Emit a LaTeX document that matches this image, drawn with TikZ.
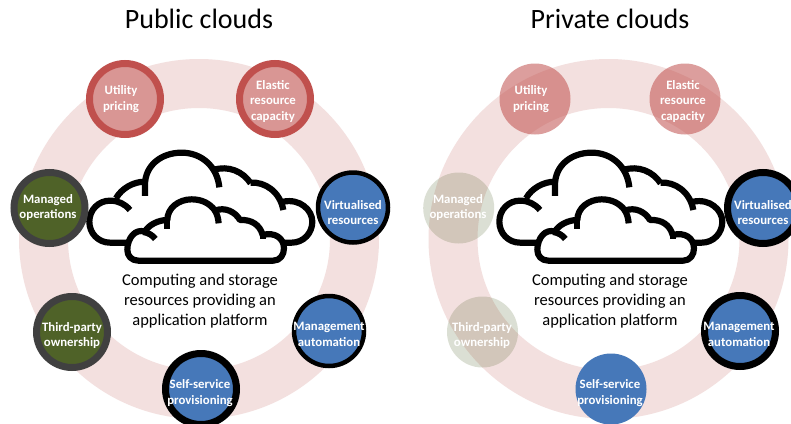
\documentclass[tikz,border=0pt]{standalone}
\usepackage{fontspec}
\setmainfont{Carlito}
\definecolor{ringc}{RGB}{243,224,223}
\definecolor{redfill}{RGB}{217,150,148}
\definecolor{redline}{RGB}{192,80,77}
\definecolor{greenfill}{RGB}{79,98,40}
\definecolor{greyline}{RGB}{64,64,64}
\definecolor{bluefill}{RGB}{70,120,185}
\tikzset{
  ring/.style={fill=ringc,even odd rule},
  disc/.style={circle,inner sep=0pt,outer sep=0pt,minimum size=#1},
  disc/.default=71pt,
  pubred/.style={disc=71pt,fill=redfill,draw=redline,line width=7pt},
  pubgreen/.style={disc=71pt,fill=greenfill,draw=greyline,line width=7pt},
  thinblue/.style={disc=70pt,fill=bluefill,draw=black,line width=4.5pt},
  thickblue/.style={disc=71pt,fill=bluefill,draw=black,line width=7pt},
  plainblue/.style={disc=71pt,fill=bluefill},
  palered/.style={disc=71pt,fill=redline,fill opacity=0.55},
  palegreen/.style={disc=71pt,fill=greenfill,fill opacity=0.2},
  lbl/.style={text=white,align=center,inner sep=0pt,font=\fontsize{12.8}{15.5}\selectfont\bfseries},
  title/.style={text=black,inner sep=0pt,font=\fontsize{28}{30}\selectfont},
  caption/.style={text=black,align=center,inner sep=0pt,font=\fontsize{16.5}{20}\selectfont},
  cloudline/.style={draw=black,line width=6.2pt,line join=round},
}
\newcommand{\cloudpair}[1]{%
\begin{scope}[shift={(#1,140)},x=0.3333pt,y=-0.3333pt]
  \draw[cloudline] (195,168) -- (195,135) .. controls (195,75) and (245,38) .. (305,38) .. controls (365,38) and (412,80) .. (418,142);
  \draw[cloudline] (195,125) .. controls (160,125) and (125,145) .. (108,175);
  \draw[cloudline] (400,90) .. controls (445,75) and (490,95) .. (512,130);
  \draw[cloudline] (512,128) .. controls (555,125) and (600,155) .. (610,210);
  \draw[cloudline] (610,185) .. controls (660,175) and (697,210) .. (697,245) .. controls (697,280) and (670,308) .. (635,308) -- (90,308) .. controls (55,308) and (28,280) .. (28,245) .. controls (28,210) and (55,182) .. (90,182) .. controls (115,182) and (135,192) .. (150,210);
  \draw[cloudline,fill=white] (175,362) -- (580,362) .. controls (600,362) and (612,345) .. (612,325) .. controls (612,295) and (585,275) .. (548,285) .. controls (540,255) and (515,238) .. (480,240) .. controls (465,215) and (435,200) .. (405,212) .. controls (390,190) and (365,178) .. (335,178) .. controls (295,178) and (262,205) .. (262,240) .. controls (235,240) and (205,255) .. (195,275) .. controls (165,265) and (142,295) .. (142,330) .. controls (142,348) and (155,362) .. (175,362) -- cycle;
  \draw[cloudline] (262,240) -- (262,268);
  \draw[cloudline] (405,212) .. controls (411,222) and (415,235) .. (416,250);
  \draw[cloudline] (548,285) -- (548,298);
  \draw[cloudline] (190,276) .. controls (205,278) and (218,286) .. (226,297);
\end{scope}}
\newcommand{\labelset}[2]{%
\begin{scope}[shift={(#2,0)}]
  \node[lbl] (#1t1) at (121,99.3) {Utility\\pricing};
  \node[lbl] (#1t2) at (273,101.3) {Elastic\\resource\\capacity};
  \node[lbl] (#1t3) at (353,212.5) {Virtualised\\resources};
  \node[lbl] (#1t4) at (329,334.5) {Management\\automation};
  \node[lbl] (#1t5) at (200,393) {Self-service\\provisioning};
  \node[lbl] (#1t6) at (72,335.5) {Third-party\\ownership};
  \node[lbl] (#1t7) at (48,207.5) {Managed\\operations};
  \node[caption] (#1cap) at (200,301) {Computing and storage\\resources providing an\\application platform};
\end{scope}}
\begin{document}
\begin{tikzpicture}[x=1pt,y=-1pt]
  \useasboundingbox (0,0) rectangle (791,423);
  \clip (0,0) rectangle (791,423);
  \fill[white] (0,0) rectangle (791,423);
  % rings
  \fill[ring] (199,239) circle (180pt) (199,239) circle (131pt);
  \fill[ring] (608.5,239) circle (180pt) (608.5,239) circle (131pt);
  % clouds
  \cloudpair{80}
  \cloudpair{490}
  % public discs
  \node[pubred] (a1) at (125,99) {};
  \node[pubred] (a2) at (275,99) {};
  \node[thinblue] (a3) at (353,207.5) {};
  \node[thinblue] (a4) at (329,331) {};
  \node[thickblue] (a5) at (201,389) {};
  \node[pubgreen] (a6) at (72,332) {};
  \node[pubgreen] (a7) at (49.5,208) {};
  % private discs
  \node[palered] (b1) at (535,99) {};
  \node[palered] (b2) at (685,99) {};
  \node[thickblue] (b3) at (763,208) {};
  \node[thickblue] (b4) at (740,331) {};
  \node[plainblue] (b5) at (611,389) {};
  \node[palegreen] (b6) at (482.5,332) {};
  \node[palegreen] (b7) at (458.7,208) {};
  % titles
  \node[title] (pubt) at (199,19) {Public clouds};
  \node[title] (prit) at (610,19) {Private clouds};
  \labelset{a}{0}
  \labelset{b}{410}
\end{tikzpicture}
\end{document}
